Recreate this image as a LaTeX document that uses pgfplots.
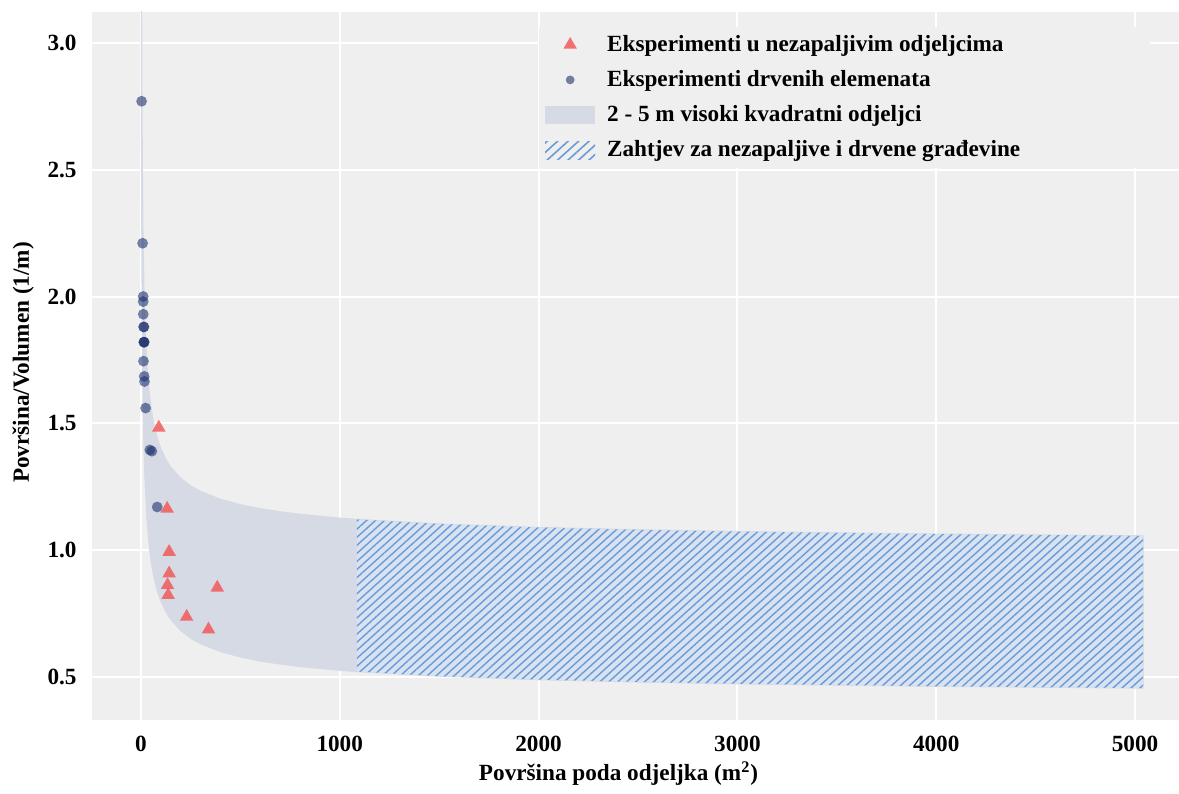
\documentclass[border=0pt]{standalone}
\usepackage{fontspec}
\setmainfont{Liberation Serif}
\usepackage{pgfplots}
\pgfplotsset{compat=1.18}
\usetikzlibrary{patterns.meta}

\definecolor{panel}{RGB}{239,239,239}
\definecolor{band}{RGB}{213,218,229}
\definecolor{hatchbg}{RGB}{216,226,240}
\definecolor{hatchln}{RGB}{105,155,215}
\definecolor{dotc}{RGB}{30,50,110}
\definecolor{tric}{RGB}{242,90,90}

\begin{document}
\begin{tikzpicture}[font=\bfseries\fontsize{11.6}{13.9}\selectfont]
\begin{axis}[
  scale only axis,
  width=543.5pt, height=354pt,
  xmin=-246, xmax=5221,
  ymin=0.330, ymax=3.122,
  xtick={0,1000,...,5000},
  ytick={0.5,1.0,1.5,2.0,2.5,3.0},
  /pgf/number format/assume math mode=true,
  xticklabel style={/pgf/number format/1000 sep={}, yshift=-4.5pt},
  yticklabel style={/pgf/number format/fixed, /pgf/number format/fixed zerofill,
                    /pgf/number format/precision=1, xshift=-4.2pt},
  major tick length=0pt,
  axis line style={draw=none},
  axis background/.style={fill=panel},
  grid=major,
  grid style={white, line width=1pt},
  xlabel={Površina poda odjeljka (m\textsuperscript{2})},
  xlabel style={at={(axis description cs:0.4844,0)}, anchor=base, yshift=-30.5pt},
  ylabel={Površina/Volumen (1/m)},
  ylabel style={at={(axis description cs:-0.058,0.505)}, anchor=base},
  legend cell align=left,
  legend style={at={(axis description cs:0.411,0.979)}, anchor=north west,
                fill=panel, draw=none, row sep=4pt, column sep=4pt,
                nodes={inner sep=2pt}},
]

% 2 - 5 m visoki kvadratni odjeljci: S/V od A = 1.5 do 5040
\addplot[forget plot, fill=band, draw=band, line width=0.6pt] coordinates {
  (1.5,4.266) (2,3.828) (3,3.309) (4,3.000) (5,2.789) (7,2.512) (10,2.265)
  (15,2.033) (20,1.894) (30,1.730) (40,1.632) (50,1.566) (60,1.516) (70,1.478)
  (85,1.434) (100,1.400) (125,1.358) (150,1.327) (200,1.283) (250,1.253)
  (300,1.231) (400,1.200) (500,1.179) (600,1.163) (700,1.151) (800,1.141)
  (1000,1.126) (1086,1.121) (1500,1.103) (2000,1.089) (2500,1.080)
  (3000,1.073) (4000,1.063) (5040,1.056)
  (5040,0.456) (4000,0.463) (3000,0.473) (2500,0.480) (2000,0.489)
  (1500,0.503) (1086,0.521) (1000,0.526) (800,0.541) (700,0.551) (600,0.563)
  (500,0.579) (400,0.600) (300,0.631) (250,0.653) (200,0.683) (150,0.727)
  (125,0.758) (100,0.800) (85,0.834) (70,0.878) (60,0.916) (50,0.966)
  (40,1.032) (30,1.130) (20,1.294) (15,1.433) (10,1.665) (7,1.912) (5,2.189)
  (4,2.400) (3,2.709) (2,3.228) (1.5,3.666)
} -- cycle;

% Zahtjev za nezapaljive i drvene gradevine
\addplot[forget plot, fill=hatchbg, draw=none] coordinates {
  (1086,1.121) (1500,1.103) (2000,1.089) (2500,1.080) (3000,1.073)
  (4000,1.063) (5040,1.056)
  (5040,0.456) (4000,0.463) (3000,0.473) (2500,0.480) (2000,0.489)
  (1500,0.503) (1086,0.521)
} -- cycle;
\addplot[forget plot, draw=none,
  pattern={Lines[angle=42, distance=3pt, line width=0.7pt]}, pattern color=hatchln]
  coordinates {
  (1086,1.121) (1500,1.103) (2000,1.089) (2500,1.080) (3000,1.073)
  (4000,1.063) (5040,1.056)
  (5040,0.456) (4000,0.463) (3000,0.473) (2500,0.480) (2000,0.489)
  (1500,0.503) (1086,0.521)
} -- cycle;

% Eksperimenti drvenih elemenata
\addplot[forget plot, only marks, mark=*, mark size=2.7pt, color=dotc,
  mark options={fill=dotc, draw opacity=0, fill opacity=0.6}] coordinates {
  (3.5,2.77) (8.5,2.21) (11.6,2.00) (11.6,1.98) (12,1.93) (14,1.88) (15,1.88)
  (15,1.82) (16,1.82) (16,1.82) (13,1.745) (16.6,1.685) (18,1.665)
  (23.6,1.56) (45,1.395) (55,1.39) (82,1.17)
};

% Eksperimenti u nezapaljivim odjeljcima
\addplot[forget plot, only marks, mark=triangle*, mark size=3.9pt, color=tric,
  mark options={fill=tric, draw opacity=0, fill opacity=0.85}] coordinates {
  (90,1.483) (132,1.163) (142,0.993) (142,0.908) (134,0.862) (137,0.823)
  (384,0.852) (230,0.737) (340,0.687)
};

\addlegendimage{legend image code/.code={
  \draw[only marks, mark=triangle*, mark size=3.9pt, color=tric,
    mark options={fill=tric, draw opacity=0, fill opacity=0.85}]
    plot coordinates {(12.5pt,0pt)};}}
\addlegendentry{Eksperimenti u nezapaljivim odjeljcima}
\addlegendimage{legend image code/.code={
  \draw[only marks, mark=*, mark size=2.2pt, color=dotc,
    mark options={fill=dotc, draw opacity=0, fill opacity=0.6}]
    plot coordinates {(12.5pt,0pt)};}}
\addlegendentry{Eksperimenti drvenih elemenata}
\addlegendimage{legend image code/.code={
  \path[fill=band, draw=none] (0pt,-4.5pt) rectangle (25pt,4.5pt);}}
\addlegendentry{2 - 5 m visoki kvadratni odjeljci}
\addlegendimage{legend image code/.code={
  \path[draw=none, pattern={Lines[angle=42, distance=3.5pt, line width=0.8pt]},
    pattern color=hatchln] (0pt,-4.5pt) rectangle (25pt,4.5pt);}}
\addlegendentry{Zahtjev za nezapaljive i drvene građevine\hspace*{60pt}}
\end{axis}
\pgfresetboundingbox
\path[use as bounding box] ([shift={(-46pt,-37pt)}]current axis.south west)
  rectangle ([shift={(0pt,6pt)}]current axis.north east);
\end{tikzpicture}
\end{document}
